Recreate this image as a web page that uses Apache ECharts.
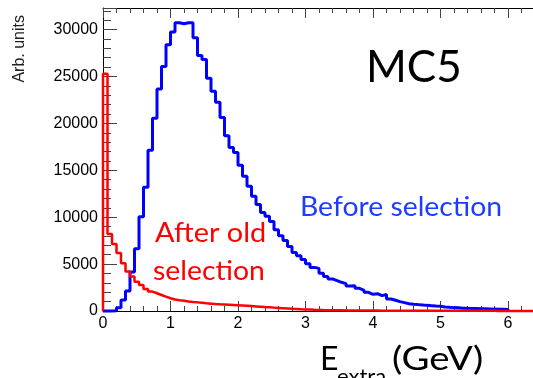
<!DOCTYPE html>
<html>
<head>
<meta charset="utf-8">
<script src="https://cdn.jsdelivr.net/npm/echarts@6/dist/echarts.min.js"></script>
<style>
  html, body { margin: 0; padding: 0; background: #fff; }
  #chart { width: 533px; height: 378px; }
</style>
</head>
<body>
<div id="chart"></div>
<script>
// Histogram binning (GeV)
const binWidth = 1 / 15;
const xMin = 0;
const xMax = 6.4;
const yMin = 0;
const yMax = 32300;

// Axis tick labels
const xTickLabels = ['0', '1', '2', '3', '4', '5', '6'];
const yTickLabels = ['0', '5000', '10000', '15000', '20000', '25000', '30000'];

// Bin contents, before selection (bins of 1/15 GeV from 0 to 6 GeV)
const beforeSelection = [
  0, 0, 30, 350, 1180, 2140, 4170, 6630, 10050, 13190,
  17140, 20560, 23670, 26060, 28380, 29730, 30730, 30620, 30730, 30730,
  29120, 27240, 26810, 24810, 23420, 22250, 20640, 18680, 17430, 16900,
  15550, 14360, 13290, 12220, 11340, 10510, 10090, 9550, 8660, 8020,
  7520, 6880, 6240, 5880, 5500, 5050, 4650, 4540, 4020, 3670,
  3420, 3240, 3060, 2920, 2670, 2700, 2420, 2210, 1990, 1780,
  1850, 1640, 1760, 1280, 1140, 1000, 890, 780, 710, 680,
  640, 600, 570, 530, 500, 430, 390, 360, 350, 290,
  280, 270, 260, 240, 230, 220, 200, 190, 180, 170
];

// Bin contents, after old selection (bins of 1/15 GeV from 0 to 6.4 GeV)
const afterOldSelection = [
  25300, 8200, 7130, 6170, 5100, 4200, 3670, 3130, 2780, 2350,
  2070, 1890, 1710, 1530, 1360, 1220, 1150, 1090, 1010, 960,
  920, 870, 820, 780, 740, 710, 690, 670, 640, 610,
  580, 550, 520, 490, 460, 420, 390, 360, 330, 300,
  270, 240, 215, 190, 170, 150, 130, 115, 100, 90,
  80, 75, 70, 65, 60, 56, 52, 48, 45, 42,
  40, 38, 36, 34, 32, 30, 29, 28, 27, 26,
  25, 24, 23, 22, 21, 20, 20, 19, 18, 18,
  17, 16, 16, 15, 15, 14, 14, 13, 13, 12,
  12, 12, 11, 11, 10, 10
];

// Step outline of a histogram: each bin drawn as a flat segment at its content
function histOutline(values) {
  const pts = [[0, 0]];
  values.forEach((v, i) => {
    pts.push([i * binWidth, v]);
    pts.push([(i + 1) * binWidth, v]);
  });
  pts.push([values.length * binWidth, 0]);
  return pts;
}

const labelFont = { fontFamily: 'Liberation Sans', fontSize: 16, color: '#000' };
const frameLine = { show: true, onZero: false, lineStyle: { color: '#000', width: 1 } };
const tickColor = '#444';

// The frame runs slightly past the right edge of the canvas
const gridRect = { left: 103, width: 432, top: 8, height: 303, containLabel: false, outerBoundsMode: 'none' };

const chart = echarts.init(document.getElementById('chart'), null, { renderer: 'canvas' });

chart.setOption({
  animation: false,
  backgroundColor: '#fff',
  grid: [Object.assign({}, gridRect), Object.assign({}, gridRect)],
  xAxis: [
    { // major ticks + labels
      type: 'value', gridIndex: 0, position: 'bottom', min: xMin, max: xMax, interval: 1,
      axisLine: frameLine,
      axisTick: { show: true, inside: true, length: 10, lineStyle: { color: tickColor } },
      axisLabel: Object.assign({
        margin: 5,
        formatter: v => (xTickLabels.indexOf(String(v)) >= 0 ? String(v) : '')
      }, labelFont),
      splitLine: { show: false }
    },
    { // top frame, major ticks
      type: 'value', gridIndex: 0, position: 'top', min: xMin, max: xMax, interval: 1,
      axisLine: frameLine,
      axisTick: { show: true, inside: true, length: 10, lineStyle: { color: tickColor } },
      axisLabel: { show: false },
      splitLine: { show: false }
    },
    { // minor ticks bottom
      type: 'value', gridIndex: 1, position: 'bottom', min: xMin, max: xMax, interval: 0.2,
      axisLine: { show: false },
      axisTick: { show: true, inside: true, length: 5, lineStyle: { color: tickColor } },
      axisLabel: { show: false },
      splitLine: { show: false }
    },
    { // minor ticks top
      type: 'value', gridIndex: 1, position: 'top', min: xMin, max: xMax, interval: 0.2,
      axisLine: { show: false },
      axisTick: { show: true, inside: true, length: 5, lineStyle: { color: tickColor } },
      axisLabel: { show: false },
      splitLine: { show: false }
    }
  ],
  yAxis: [
    { // major ticks + labels
      type: 'value', gridIndex: 0, position: 'left', min: yMin, max: yMax, interval: 5000,
      axisLine: frameLine,
      axisTick: { show: true, inside: true, length: 14, lineStyle: { color: tickColor } },
      axisLabel: Object.assign({
        margin: 5,
        formatter: v => (yTickLabels.indexOf(String(v)) >= 0 ? String(v) : '')
      }, labelFont),
      splitLine: { show: false }
    },
    { // minor ticks
      type: 'value', gridIndex: 1, position: 'left', min: yMin, max: yMax, interval: 1000,
      axisLine: { show: false },
      axisTick: { show: true, inside: true, length: 8, lineStyle: { color: tickColor } },
      axisLabel: { show: false },
      splitLine: { show: false }
    }
  ],
  series: [
    {
      name: 'Before selection', type: 'line', xAxisIndex: 0, yAxisIndex: 0,
      data: histOutline(beforeSelection),
      symbol: 'none', clip: false,
      lineStyle: { color: '#0000ff', width: 3 }
    },
    {
      name: 'After old selection', type: 'line', xAxisIndex: 0, yAxisIndex: 0,
      data: histOutline(afterOldSelection),
      symbol: 'none', clip: false,
      lineStyle: { color: '#ff0000', width: 2.5 }
    }
  ],
  graphic: [
    { type: 'text', x: 20, y: 15, rotation: Math.PI / 2,
      style: { text: 'Arb. units', font: '16px "Liberation Sans"', fill: '#222',
               align: 'right', verticalAlign: 'middle' } },
    { type: 'text', x: 366, y: 68,
      style: { text: 'MC5', font: '44px Lato', fill: '#000', align: 'left', verticalAlign: 'middle' } },
    { type: 'text', x: 300, y: 208, scaleX: 1.09,
      style: { text: 'Before selection', font: '26px Lato', fill: '#1e3cff', align: 'left', verticalAlign: 'middle' } },
    { type: 'text', x: 155, y: 233, scaleX: 1.07,
      style: { text: 'After old', font: '27px Lato', fill: '#ff0000', align: 'left', verticalAlign: 'middle' } },
    { type: 'text', x: 153, y: 271, scaleX: 1.05,
      style: { text: 'selection', font: '27px Lato', fill: '#ff0000', align: 'left', verticalAlign: 'middle' } },
    { type: 'text', x: 320, y: 360,
      style: { text: 'E', font: '32px Lato', fill: '#000', align: 'left', verticalAlign: 'middle' } },
    { type: 'text', x: 337, y: 377,
      style: { text: 'extra', font: '22px Lato', fill: '#000', align: 'left', verticalAlign: 'middle' } },
    { type: 'text', x: 392, y: 360, scaleX: 1.2,
      style: { text: '(GeV)', font: '32px Lato', fill: '#000', align: 'left', verticalAlign: 'middle' } }
  ]
});
</script>
</body>
</html>
